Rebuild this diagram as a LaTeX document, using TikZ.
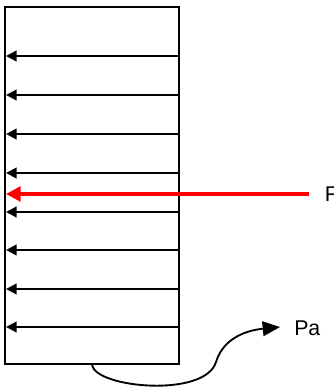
\documentclass[tikz,border=0pt]{standalone}
\usepackage{fontspec}
\setmainfont{Liberation Sans}
\usetikzlibrary{arrows.meta}

\begin{document}
\begin{tikzpicture}[x=0.75pt, y=-0.75pt, font=\fontsize{16}{19}\selectfont,
  plate/.style={draw=black, line width=1.5pt, minimum width=130.5pt, minimum height=267.75pt, inner sep=0pt},
  label/.style={inner sep=0pt, anchor=west},
  pressure/.style={-{Triangle[length=8pt, width=8pt]}, line width=1.6pt, draw=black},
  force/.style={-{Triangle[length=11pt, width=11pt]}, line width=3pt, draw=red},
  flow/.style={-{Triangle[length=13pt, width=11pt]}, line width=1.4pt, draw=black}]
  \useasboundingbox (0,0) rectangle (334,389);
  \node[plate] (plate) at (92,185.5) {};
  \foreach \y [count=\i] in {56,95,134,173,212,250,289,327} {
    \coordinate (r\i) at (179,\y);
    \coordinate (l\i) at (6,\y);
    \draw[pressure] (r\i) -- (l\i);
  }
  \node[label] (F) at (324.5,194) {F};
  \coordinate (Fend) at (309,194);
  \coordinate (Ftip) at (6,194);
  \draw[force] (Fend) -- (Ftip);
  \node[label] (Pa) at (294,328) {Pa};
  \coordinate (Patip) at (280,327);
  \draw[flow] (plate.south) .. controls (96,388) and (205,398) .. (216,362)
    .. controls (224,336) and (250,330) .. (Patip);
\end{tikzpicture}
\end{document}
